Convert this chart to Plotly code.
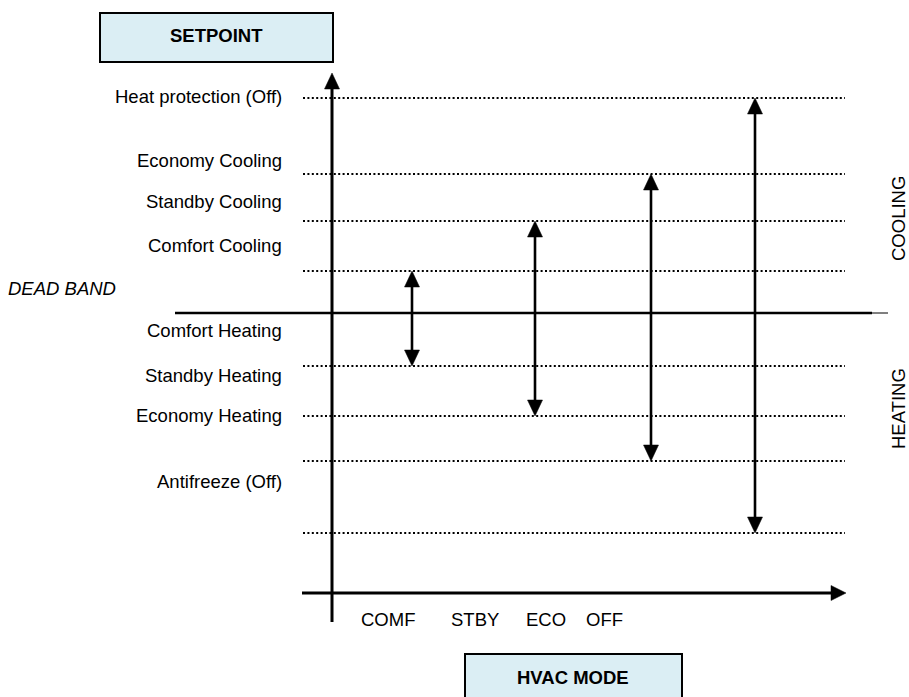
import plotly.graph_objects as go

W, H = 909, 697

# ---- data ----
setpoint_labels = ["Heat protection (Off)", "Economy Cooling", "Standby Cooling", "Comfort Cooling",
                   "Comfort Heating", "Standby Heating", "Economy Heating", "Antifreeze (Off)"]
setpoint_levels = [21.5, 13.9, 9.2, 4.2, -5.3, -10.3, -14.8, -22.0]
mode_labels = ["COMF", "STBY", "ECO", "OFF"]
mode_arrow_x = [4.12, 5.35, 6.51, 7.55]
mode_upper = [4.2, 9.2, 13.9, 21.5]
mode_lower = [-5.3, -10.3, -14.8, -22.0]
dead_band_level = 0.0
zone_labels = ["COOLING", "HEATING"]
title_y = "SETPOINT"
title_x = "HVAC MODE"
dead_band_label = "DEAD BAND"

# ---- layout helpers (page pixel -> axis units) ----
def X(px):
    return px / 100.0

def Y(py):
    return (313 - py) / 10.0

FONT = "Liberation Sans, Arial, sans-serif"
FS = 18.5
HEAD_W = 0.075      # half width of arrow head (x units)
HEAD_L = 1.6        # length of arrow head (y units)

fig = go.Figure()

def head(x, y, direction):
    if direction == "up":
        xs = [x - HEAD_W, x + HEAD_W, x, x - HEAD_W]
        ys = [y - HEAD_L, y - HEAD_L, y, y - HEAD_L]
    elif direction == "down":
        xs = [x - HEAD_W, x + HEAD_W, x, x - HEAD_W]
        ys = [y + HEAD_L, y + HEAD_L, y, y + HEAD_L]
    else:  # right
        xs = [x - 0.15, x - 0.15, x, x - 0.15]
        ys = [y - 0.75, y + 0.75, y, y - 0.75]
    fig.add_trace(go.Scatter(x=xs, y=ys, mode="lines", fill="toself", fillcolor="black",
                             line=dict(color="black", width=0.5), hoverinfo="skip", showlegend=False))

# dotted setpoint lines
for lvl in setpoint_levels:
    fig.add_trace(go.Scatter(x=[X(303), X(845)], y=[lvl, lvl], mode="lines",
                             line=dict(color="black", width=2, dash="2px,2.4px"),
                             hoverinfo="skip", showlegend=False))

# dead band line
fig.add_trace(go.Scatter(x=[X(175), X(872)], y=[dead_band_level] * 2, mode="lines",
                         line=dict(color="black", width=2.6), hoverinfo="skip", showlegend=False))
fig.add_trace(go.Scatter(x=[X(872), X(888)], y=[dead_band_level] * 2, mode="lines",
                         line=dict(color="black", width=1), hoverinfo="skip", showlegend=False))

# vertical (setpoint) axis
fig.add_trace(go.Scatter(x=[X(332), X(332)], y=[Y(622), Y(85)], mode="lines",
                         line=dict(color="black", width=3), hoverinfo="skip", showlegend=False))
head(X(332), Y(73), "up")

# horizontal (mode) axis
fig.add_trace(go.Scatter(x=[X(302), X(832)], y=[Y(593), Y(593)], mode="lines",
                         line=dict(color="black", width=3), hoverinfo="skip", showlegend=False))
head(X(846), Y(593), "right")

# mode arrows
for xm, up, lo in zip(mode_arrow_x, mode_upper, mode_lower):
    fig.add_trace(go.Scatter(x=[xm, xm], y=[lo + HEAD_L * 0.9, up - HEAD_L * 0.9], mode="lines",
                             line=dict(color="black", width=2.6), hoverinfo="skip", showlegend=False))
    head(xm, up, "up")
    head(xm, lo, "down")

ann = []
# setpoint labels
label_y = [96, 160, 201, 245, 330, 375, 415, 481]
for lab, ly in zip(setpoint_labels, label_y):
    ann.append(dict(x=X(284), y=Y(ly), text=lab, showarrow=False, xanchor="right", yanchor="middle",
                    font=dict(family=FONT, size=FS, color="black")))
# mode labels
mode_lx = [388, 475, 546, 604]
for lab, lx in zip(mode_labels, mode_lx):
    ann.append(dict(x=X(lx), y=Y(619), text=lab, showarrow=False, xanchor="center", yanchor="middle",
                    font=dict(family=FONT, size=FS, color="black")))
# dead band
ann.append(dict(x=X(118), y=Y(288), text="<i>" + dead_band_label + "</i>", showarrow=False,
                xanchor="right", yanchor="middle", font=dict(family=FONT, size=FS, color="black")))
# zones
for lab, zy in zip(zone_labels, [219, 409]):
    ann.append(dict(x=X(898), y=Y(zy), text=lab, showarrow=False, textangle=-90,
                    xanchor="center", yanchor="middle", font=dict(family=FONT, size=FS, color="black")))
# box titles
ann.append(dict(x=X(216), y=Y(35), text="<b>" + title_y + "</b>", showarrow=False,
                xanchor="center", yanchor="middle", font=dict(family=FONT, size=FS, color="black")))
ann.append(dict(x=X(573), y=Y(677), text="<b>" + title_x + "</b>", showarrow=False,
                xanchor="center", yanchor="middle", font=dict(family=FONT, size=FS, color="black")))

shapes = [
    dict(type="rect", xref="x", yref="y", x0=X(100), x1=X(333), y0=Y(13), y1=Y(62),
         fillcolor="#DBEEF4", line=dict(color="black", width=2), layer="below"),
    dict(type="rect", xref="x", yref="y", x0=X(465), x1=X(682), y0=Y(654), y1=Y(705),
         fillcolor="#DBEEF4", line=dict(color="black", width=2), layer="below"),
]

fig.update_layout(
    width=W, height=H, margin=dict(l=0, r=0, t=0, b=0),
    paper_bgcolor="white", plot_bgcolor="white",
    xaxis=dict(range=[X(0), X(W)], visible=False, fixedrange=True),
    yaxis=dict(range=[Y(H), Y(0)], visible=False, fixedrange=True),
    annotations=ann, shapes=shapes, showlegend=False,
)

fig.write_html("out.html",
               config={"displayModeBar": False},
               post_script="document.body.style.margin='0px';document.body.style.overflow='hidden';")
